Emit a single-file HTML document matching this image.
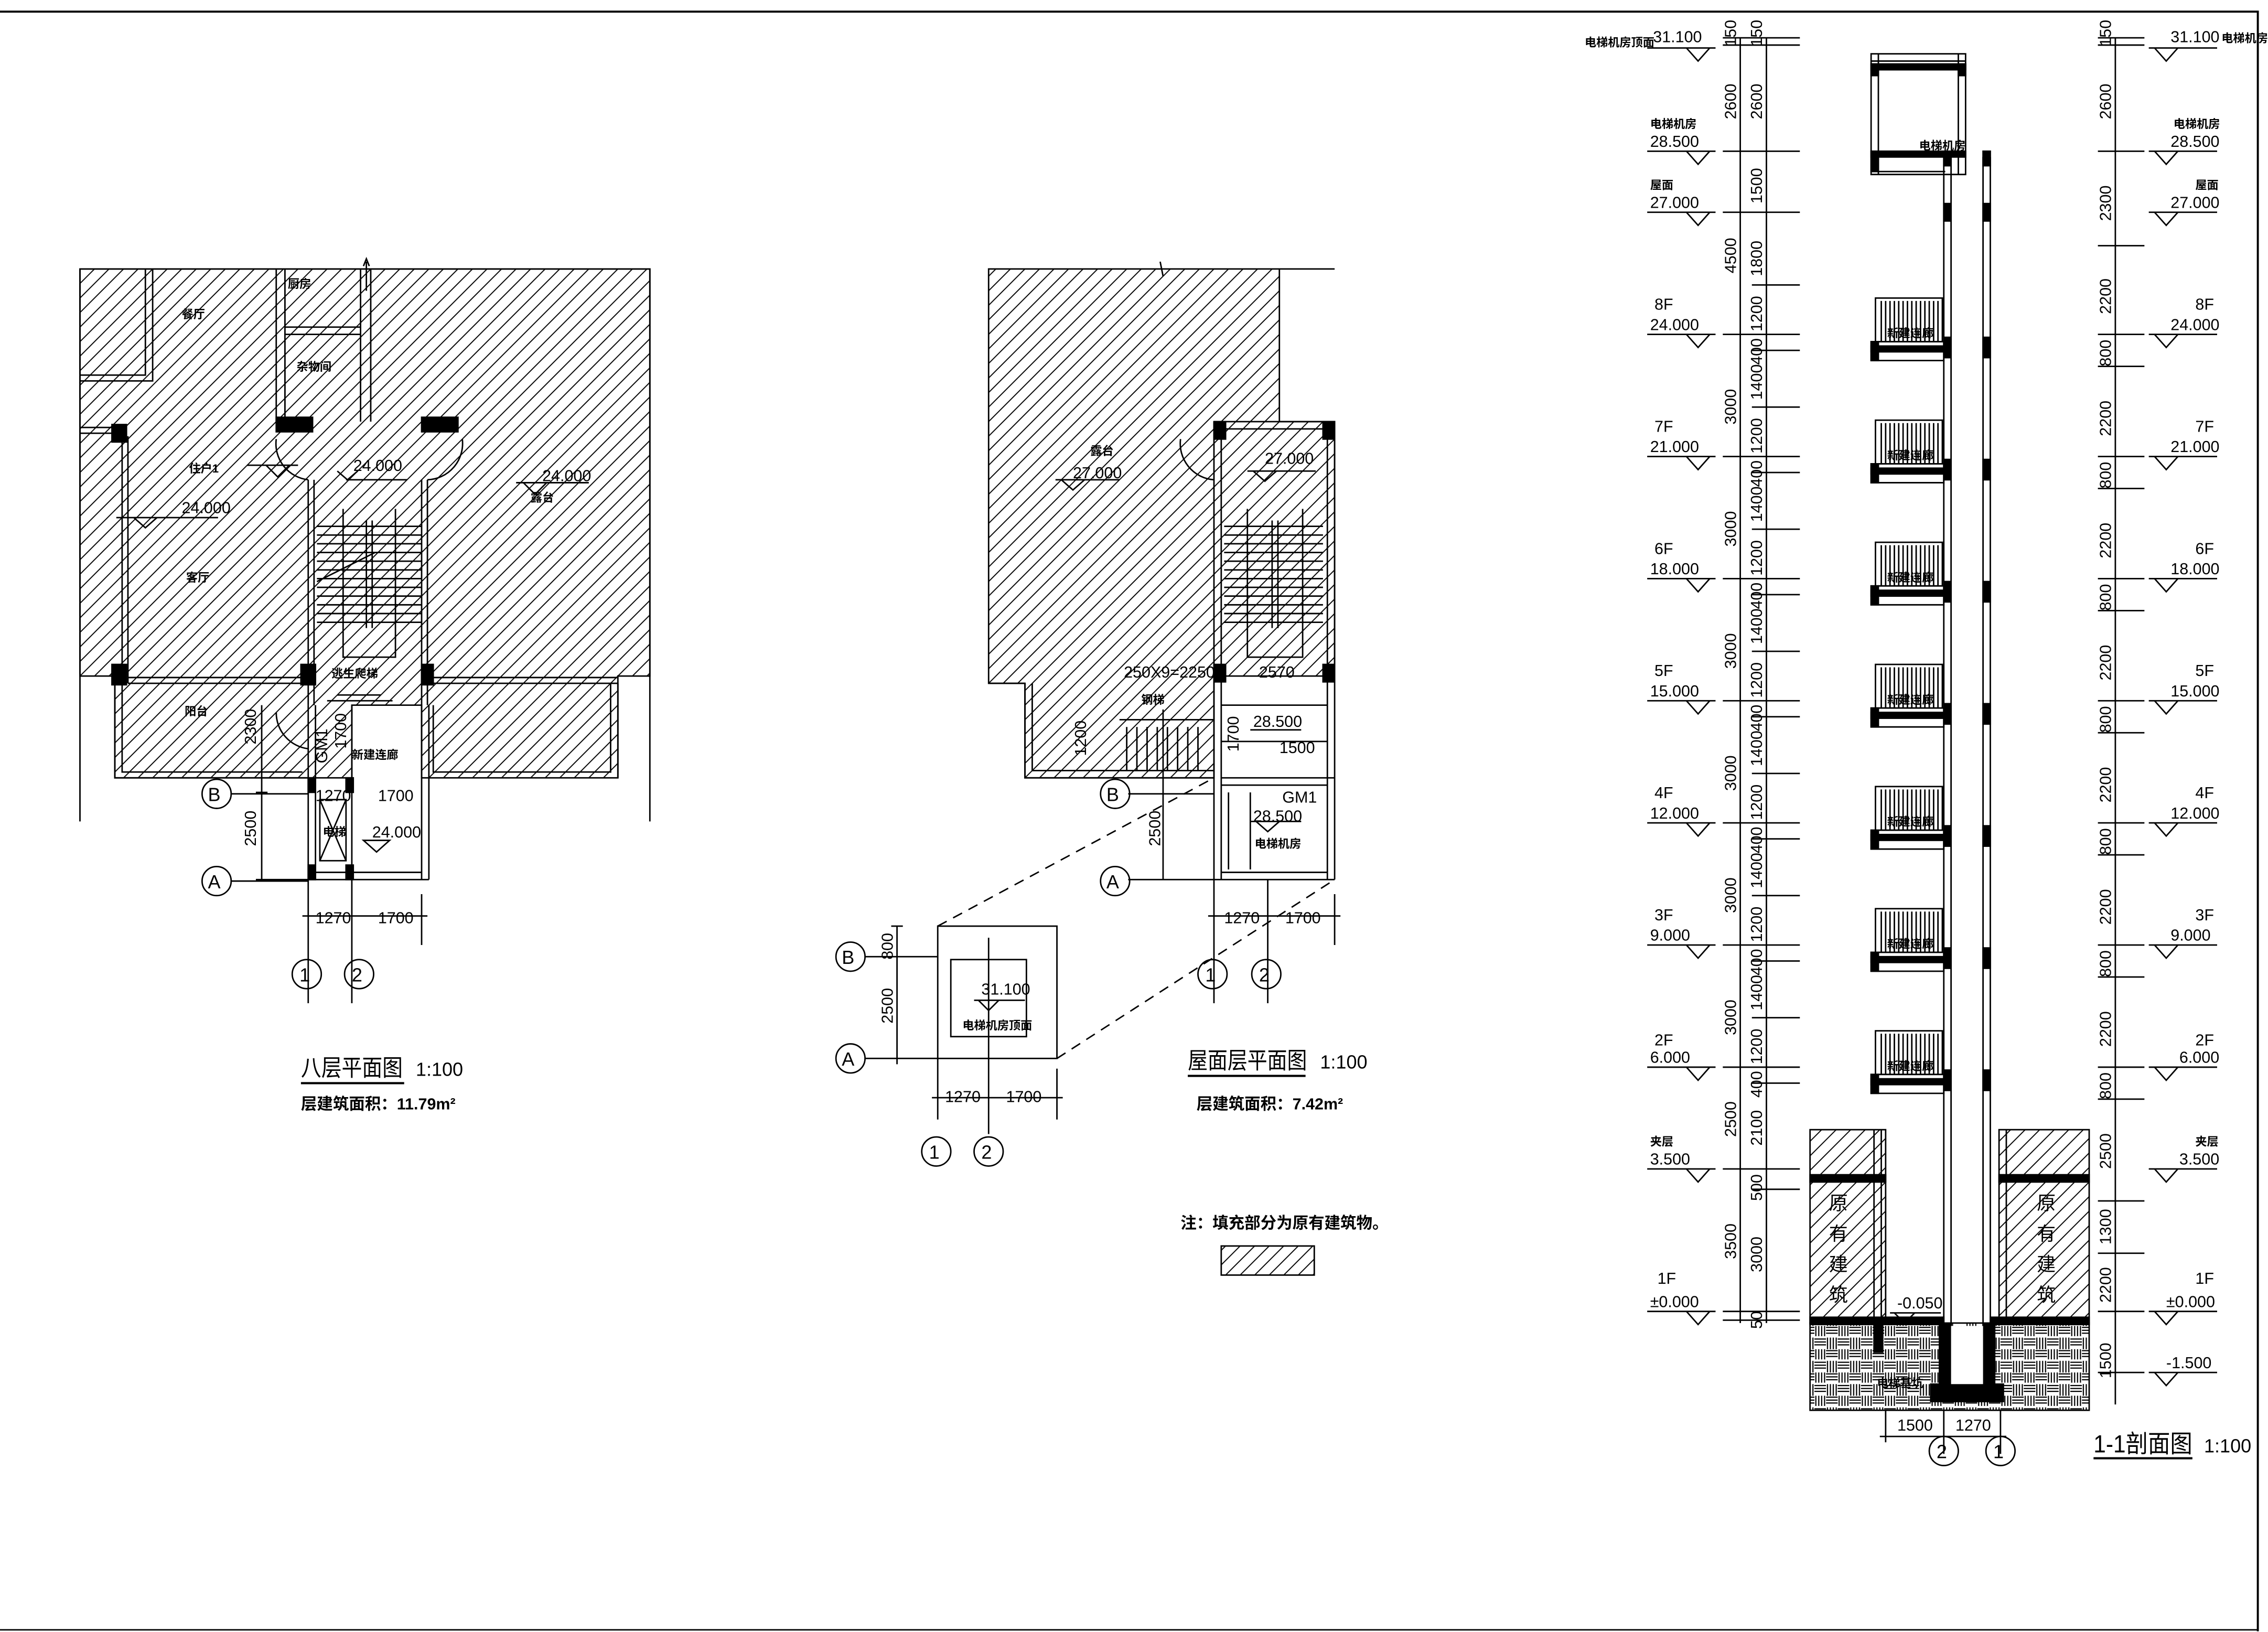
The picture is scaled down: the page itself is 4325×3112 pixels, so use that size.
<!DOCTYPE html>
<html><head><meta charset="utf-8"><style>
html,body{margin:0;padding:0;background:#fff}
svg{display:block}
text{font-family:"Liberation Sans","Noto Sans CJK SC",sans-serif;fill:#000}
.d{font-size:11px}
.c{font-size:8px;font-weight:bold}
.l{font-size:11px}
</style></head><body>
<svg width="4325" height="3112" viewBox="0 0 1560 1122.5" preserveAspectRatio="none" xmlns="http://www.w3.org/2000/svg">
<defs>
<pattern id="h" width="10" height="10" patternUnits="userSpaceOnUse"><path d="M-1,11 L11,-1 M-6,6 L6,-6 M4,16 L16,4" stroke="#000" stroke-width="0.7"/></pattern>
<pattern id="s" width="16" height="16" patternUnits="userSpaceOnUse"><g stroke="#000" stroke-width="0.8" fill="none"><path d="M1,0v7M3,0v7M5,0v7M7,0v7"/><path d="M8,1h8M8,3h8M8,5h8"/><path d="M0,9h8M0,11h8M0,13h8"/><path d="M9,8v8M11,8v8M13,8v8M15,8v8"/></g></pattern>
<g id="lm"><path d="M1133,0 H1180 M1160,0 L1168,9 L1176,0" fill="none" stroke="#000"/></g>
<g id="rm"><path d="M1478,0 H1525 M1482,0 L1490,9 L1498,0" fill="none" stroke="#000"/></g>
</defs>
<g fill="none" stroke="#000" stroke-width="1">
<!-- frame -->
<path d="M0,8 H1553 V1122" stroke-width="1.4"/>
<path d="M0,1121 H1553" stroke-width="1"/>

<!-- ===== LEFT PLAN ===== -->
<path d="M55,185 H447 V465 H425 V535 H290 V485 H242 V535 H79 V465 H55 Z" fill="url(#h)"/>
<path d="M55,185 H447 V465 M55,185 V465" />
<path d="M55,465 V565 M447,465 V565"/>
<path d="M55,262 H105 V185 M55,258 H100 V185"/>
<path d="M190,185 V290 M196,185 V290 M248,185 V290 M255,185 V290 M196,225 H248 M196,230 H248"/>
<path d="M252,180 V200 M250,183 L252,178 L254,183"/>
<path d="M55,294 H80 M55,298 H80"/>
<rect x="190" y="287" width="25" height="10" fill="#000"/>
<rect x="290" y="287" width="25" height="10" fill="#000"/>
<rect x="77" y="292" width="10" height="12" fill="#000"/>
<rect x="77" y="457" width="10" height="14" fill="#000"/>
<rect x="207" y="457" width="10" height="14" fill="#000"/>
<rect x="290" y="457" width="8" height="14" fill="#000"/>
<path d="M84,300 V470 M88,300 V470"/>
<path d="M212,330 V485 M216,330 V485 M290,330 V485 M294,330 V485"/>
<path d="M190,302 A25,25 0 0 0 212,330 M318,302 A25,25 0 0 1 294,330"/>
<path d="M218,362 H290 M218,368 H290 M218,374 H290 M218,380 H290 M218,386 H290 M218,392 H290 M218,398 H290 M218,404 H290 M218,410 H290 M218,416 H290 M218,422 H290 M218,428 H290"/>
<path d="M252,358 V432 M256,358 V432 M236,350 V452 H272 V350"/>
<path d="M218,400 L258,380"/>
<path d="M88,466 H212 M88,470 H212 M290,466 H425 M290,470 H425"/>
<path d="M79,470 V535 H212 M84,470 V531 H208 M425,470 V535 M420,470 V531 H298 V485"/>
<path d="M232,478 H262 M225,482 H270"/>
<path d="M190,490 A25,25 0 0 0 212,515"/>
<path d="M212,485 V605 M217,485 V605 M242,485 V605 M290,485 V605 M295,485 V605 M217,600 H290 M212,605 H295"/>
<rect x="212" y="535" width="5" height="10" fill="#000"/>
<rect x="238" y="535" width="5" height="10" fill="#000"/>
<rect x="212" y="595" width="5" height="10" fill="#000"/>
<rect x="238" y="595" width="5" height="10" fill="#000"/>
<path d="M220,550 L238,592 M238,550 L220,592 M220,550 H238 V592 H220 Z"/>
<path d="M180,485 V605 M176,605 H212 M159,606 H212 M159,546 H212 M176,545 H184"/>
<circle cx="149" cy="546" r="10"/><circle cx="149" cy="606" r="10"/>
<path d="M212,605 V690 M242,605 V690 M290,615 V650 M208,630 H294"/>
<circle cx="211" cy="670" r="10"/><circle cx="247" cy="670" r="10"/>
<path d="M250,578 H268 L259,586 Z"/>
<path d="M170,320 H205 M183,320 L191,328 L199,320 M80,356 H150 M92,356 L100,363 L108,356 M238,330 H280 M232,324 L239,330 L246,324 M355,332 H405 M360,332 L368,340 L376,332"/>
<path d="M207,745 H278" stroke-width="1.5"/>

<!-- ===== MIDDLE PLAN ===== -->
<path d="M680,185 H880 V290 H918 V465 H835 V535 H705 V470 H680 Z" fill="url(#h)"/>
<path d="M880,185 H918 M798,180 L800,190 M680,470 H705"/>
<path d="M835,290 V605 M840,295 V605 M913,290 V605 M918,290 V605 M835,290 H918 M840,295 H913"/>
<rect x="835" y="290" width="8" height="12" fill="#000"/>
<rect x="910" y="290" width="8" height="12" fill="#000"/>
<rect x="835" y="457" width="8" height="12" fill="#000"/>
<rect x="910" y="457" width="8" height="12" fill="#000"/>
<path d="M842,362 H910 M842,368 H910 M842,374 H910 M842,380 H910 M842,386 H910 M842,392 H910 M842,398 H910 M842,404 H910 M842,410 H910 M842,416 H910 M842,422 H910 M842,428 H910"/>
<path d="M875,358 V432 M879,358 V432 M858,350 V452 H896 V350"/>
<path d="M812,302 A25,25 0 0 0 835,330"/>
<path d="M705,470 V535 H835 M710,470 V530 H835 M770,495 H835 M775,500 V530 M782,500 V530 M789,500 V530 M796,500 V530 M803,500 V530 M810,500 V530 M817,500 V530 M824,500 V530"/>
<path d="M840,485 H913 M840,535 H918 M840,540 H913 M840,600 H913 M835,605 H918 M840,510 H913"/>
<path d="M845,545 V598 M860,545 V598"/>
<path d="M800,488 V605 M776,605 H835 M776,546 H835"/>
<circle cx="767" cy="546" r="10"/><circle cx="767" cy="606" r="10"/>
<path d="M835,605 V690 M872,605 V690 M918,615 V650 M831,630 H922"/>
<circle cx="834" cy="670" r="10"/><circle cx="871" cy="670" r="10"/>
<path d="M726,330 H770 M730,330 L738,337 L746,330 M858,324 H905 M862,324 L870,331 L878,324 M860,502 H895 M860,565 H895 M864,565 L872,572 L880,565"/>
<path d="M817,740 H898" stroke-width="1.5"/>
<rect x="645" y="637" width="82" height="91"/>
<rect x="654" y="660" width="52" height="53"/>
<path d="M680,645 V780 M645,728 V770 M727,735 V770 M641,755 H731 M595,658 H645 M595,728 H645 M617,637 V732 M613,637 H621"/>
<circle cx="585" cy="658" r="10"/><circle cx="585" cy="728" r="10"/>
<circle cx="644" cy="792" r="10"/><circle cx="680" cy="792" r="10"/>
<path d="M670,688 H705 M673,688 L680,695 L687,688"/>
<path d="M645,637 L835,535 M727,728 L918,605" stroke-dasharray="7,5"/>
<rect x="840" y="857" width="64" height="20" fill="url(#h)"/>

<!-- ===== SECTION ===== -->
<path d="M1287,37 H1352 V120 H1287 Z M1292,37 V120 M1347,37 V120 M1287,42 H1352"/>
<rect x="1287" y="44" width="65" height="4" fill="#000"/>
<rect x="1287" y="104" width="65" height="4" fill="#000"/>
<rect x="1287" y="44" width="5" height="8" fill="#000"/>
<rect x="1347" y="44" width="5" height="8" fill="#000"/>
<rect x="1287" y="104" width="5" height="14" fill="#000"/>
<path d="M1287,118 H1338"/>
<path d="M1337,108 V960 M1342,108 V960 M1364,108 V960 M1369,108 V960"/>
<rect x="1337" y="140" width="5" height="12" fill="#000"/><rect x="1364" y="140" width="5" height="12" fill="#000"/>
<rect x="1364" y="104" width="5" height="10" fill="#000"/><rect x="1337" y="104" width="5" height="10" fill="#000"/>
<g id="fl">
<rect x="1290" y="205" width="46" height="30"/>
<path d="M1294,207 V235 M1297,207 V235 M1300,207 V235 M1303,207 V235 M1306,207 V235 M1309,207 V235 M1312,207 V235 M1315,207 V235 M1318,207 V235 M1321,207 V235 M1324,207 V235 M1327,207 V235 M1330,207 V235 M1333,207 V235"/>
<path d="M1287,235 H1337 V248 H1287 Z"/>
<rect x="1287" y="238" width="50" height="4" fill="#000"/>
<rect x="1287" y="235" width="5" height="13" fill="#000"/>
<rect x="1337" y="232" width="5" height="14" fill="#000"/>
<rect x="1364" y="232" width="5" height="14" fill="#000"/>
</g>
<use href="#fl" y="84"/><use href="#fl" y="168"/><use href="#fl" y="252"/><use href="#fl" y="336"/><use href="#fl" y="420"/><use href="#fl" y="504"/>
<rect x="1245" y="777" width="52" height="133" fill="url(#h)"/>
<rect x="1375" y="777" width="62" height="133" fill="url(#h)"/>
<rect x="1245" y="808" width="52" height="5" fill="#000"/>
<rect x="1375" y="808" width="62" height="5" fill="#000"/>
<path d="M1289,777 V910 M1294,777 V910 M1380,777 V910"/>
<rect x="1245" y="910" width="192" height="60" fill="url(#s)"/>
<rect x="1245" y="906" width="92" height="5" fill="#000"/>
<rect x="1369" y="906" width="68" height="5" fill="#000"/>
<rect x="1334" y="910" width="8" height="50" fill="#000"/>
<rect x="1364" y="910" width="8" height="50" fill="#000"/>
<rect x="1328" y="952" width="50" height="12" fill="#000"/>
<rect x="1342" y="912" width="22" height="40" fill="#fff" stroke="none"/>
<rect x="1289" y="910" width="6" height="20" fill="#000"/>
<path d="M1300,903 H1335 M1303,903 L1310,910 L1317,903"/>
<path d="M1297,970 V992 M1337,970 V1000 M1376,970 V1000 M1293,988 H1380"/>
<circle cx="1337" cy="998" r="10"/><circle cx="1376" cy="998" r="10"/>
<path d="M1440,1003 H1508" stroke-width="1.5"/>
<path d="M1197,26 V910 M1215,26 V910"/>
<path d="M1185,26 H1238 M1185,31 H1238 M1185,104 H1238 M1185,146 H1238 M1205,196 H1238 M1185,230 H1238 M1205,241 H1238 M1205,280 H1238 M1185,314 H1238 M1205,325 H1238 M1205,364 H1238 M1185,398 H1238 M1205,409 H1238 M1205,448 H1238 M1185,482 H1238 M1205,493 H1238 M1205,532 H1238 M1185,566 H1238 M1205,577 H1238 M1205,616 H1238 M1185,650 H1238 M1205,661 H1238 M1205,700 H1238 M1185,734 H1238 M1205,745 H1238 M1185,804 H1238 M1205,818 H1238 M1185,902 H1238 M1185,908 H1238"/>
<path d="M1455,26 V966"/>
<path d="M1443,26 H1475 M1443,31 H1475 M1443,104 H1475 M1443,169 H1475 M1443,230 H1475 M1443,252 H1475 M1443,314 H1475 M1443,336 H1475 M1443,398 H1475 M1443,420 H1475 M1443,482 H1475 M1443,504 H1475 M1443,566 H1475 M1443,588 H1475 M1443,650 H1475 M1443,672 H1475 M1443,734 H1475 M1443,756 H1475 M1443,826 H1475 M1443,862 H1475 M1443,902 H1475 M1443,944 H1475"/>
</g>
<use href="#lm" y="33"/><use href="#lm" y="104"/><use href="#lm" y="146"/><use href="#lm" y="230"/><use href="#lm" y="314"/><use href="#lm" y="398"/><use href="#lm" y="482"/><use href="#lm" y="566"/><use href="#lm" y="650"/><use href="#lm" y="734"/><use href="#lm" y="804"/><use href="#lm" y="902"/>
<use href="#rm" y="33"/><use href="#rm" y="104"/><use href="#rm" y="146"/><use href="#rm" y="230"/><use href="#rm" y="314"/><use href="#rm" y="398"/><use href="#rm" y="482"/><use href="#rm" y="566"/><use href="#rm" y="650"/><use href="#rm" y="734"/><use href="#rm" y="804"/><use href="#rm" y="902"/><use href="#rm" y="944"/>

<g class="c">
<text x="125" y="219">餐厅</text><text x="198" y="198">厨房</text><text x="204" y="255">杂物间</text>
<text x="130" y="325">住户1</text><text x="128" y="400">客厅</text><text x="127" y="492">阳台</text>
<text x="365" y="345">露台</text><text x="228" y="466">逃生爬梯</text><text x="242" y="522">新建连廊</text>
<text x="222" y="575">电梯</text>
<text x="750" y="313">露台</text><text x="785" y="484">钢梯</text><text x="863" y="583">电梯机房</text>
<text x="662" y="708">电梯机房顶面</text>
<text x="1320" y="103">电梯机房</text>
<text x="1090" y="32">电梯机房顶面</text><text x="1528" y="29">电梯机房顶</text>
<text x="1135" y="88">电梯机房</text><text x="1135" y="130">屋面</text>
<text x="1495" y="88">电梯机房</text><text x="1510" y="130">屋面</text>
<text x="1135" y="788">夹层</text><text x="1510" y="788">夹层</text>
<text x="1291" y="954">电梯基坑</text>
<text x="1298" y="232">新建连廊</text><text x="1298" y="316">新建连廊</text><text x="1298" y="400">新建连廊</text><text x="1298" y="484">新建连廊</text><text x="1298" y="568">新建连廊</text><text x="1298" y="652">新建连廊</text><text x="1298" y="736">新建连廊</text>
</g>
<g class="d">
<text x="125" y="353">24.000</text><text x="243" y="324">24.000</text><text x="373" y="331">24.000</text><text x="256" y="576">24.000</text>
<text x="738" y="329">27.000</text><text x="870" y="319">27.000</text><text x="862" y="500">28.500</text><text x="862" y="565">28.500</text>
<text x="773" y="466">250X9=2250</text><text x="866" y="466">2570</text><text x="880" y="518">1500</text><text x="882" y="552">GM1</text>
<text x="675" y="684">31.100</text>
<text x="217" y="635">1270</text><text x="260" y="635">1700</text><text x="217" y="551">1270</text><text x="260" y="551">1700</text>
<text x="842" y="635">1270</text><text x="884" y="635">1700</text>
<text x="650" y="758">1270</text><text x="692" y="758">1700</text>
<text x="1305" y="984">1500</text><text x="1345" y="984">1270</text>
<text x="1137" y="29">31.100</text><text x="1135" y="101">28.500</text><text x="1135" y="143">27.000</text>
<text x="1138" y="213">8F</text><text x="1135" y="227">24.000</text>
<text x="1138" y="297">7F</text><text x="1135" y="311">21.000</text>
<text x="1138" y="381">6F</text><text x="1135" y="395">18.000</text>
<text x="1138" y="465">5F</text><text x="1135" y="479">15.000</text>
<text x="1138" y="549">4F</text><text x="1135" y="563">12.000</text>
<text x="1138" y="633">3F</text><text x="1135" y="647">9.000</text>
<text x="1138" y="719">2F</text><text x="1135" y="731">6.000</text>
<text x="1135" y="801">3.500</text>
<text x="1140" y="883">1F</text><text x="1135" y="899">±0.000</text>
<text x="1305" y="900">-0.050</text>
<text x="1493" y="29">31.100</text><text x="1493" y="101">28.500</text><text x="1493" y="143">27.000</text>
<text x="1510" y="213">8F</text><text x="1493" y="227">24.000</text>
<text x="1510" y="297">7F</text><text x="1493" y="311">21.000</text>
<text x="1510" y="381">6F</text><text x="1493" y="395">18.000</text>
<text x="1510" y="465">5F</text><text x="1493" y="479">15.000</text>
<text x="1510" y="549">4F</text><text x="1493" y="563">12.000</text>
<text x="1510" y="633">3F</text><text x="1493" y="647">9.000</text>
<text x="1510" y="719">2F</text><text x="1499" y="731">6.000</text>
<text x="1499" y="801">3.500</text>
<text x="1510" y="883">1F</text><text x="1490" y="899">±0.000</text>
<text x="1490" y="941">-1.500</text>
</g>
<g class="d">
<text transform="translate(176,512) rotate(-90)">2300</text>
<text transform="translate(176,582) rotate(-90)">2500</text>
<text transform="translate(225,525) rotate(-90)">GM1</text>
<text transform="translate(238,515) rotate(-90)">1700</text>
<text transform="translate(798,582) rotate(-90)">2500</text>
<text transform="translate(747,520) rotate(-90)">1200</text>
<text transform="translate(852,517) rotate(-90)">1700</text>
<text transform="translate(614,660) rotate(-90)">800</text>
<text transform="translate(614,704) rotate(-90)">2500</text>
</g>
<g class="d">
<text transform="translate(1194,32) rotate(-90)">150</text><text transform="translate(1212,32) rotate(-90)">150</text>
<text transform="translate(1194,82) rotate(-90)">2600</text><text transform="translate(1212,82) rotate(-90)">2600</text>
<text transform="translate(1212,140) rotate(-90)">1500</text>
<text transform="translate(1194,188) rotate(-90)">4500</text><text transform="translate(1212,190) rotate(-90)">1800</text>
<text transform="translate(1212,228) rotate(-90)">1200</text>
<text transform="translate(1212,251) rotate(-90)">400</text><text transform="translate(1212,275) rotate(-90)">1400</text><text transform="translate(1194,292) rotate(-90)">3000</text><text transform="translate(1212,312) rotate(-90)">1200</text>
<text transform="translate(1212,335) rotate(-90)">400</text><text transform="translate(1212,359) rotate(-90)">1400</text><text transform="translate(1194,376) rotate(-90)">3000</text><text transform="translate(1212,396) rotate(-90)">1200</text>
<text transform="translate(1212,419) rotate(-90)">400</text><text transform="translate(1212,443) rotate(-90)">1400</text><text transform="translate(1194,460) rotate(-90)">3000</text><text transform="translate(1212,480) rotate(-90)">1200</text>
<text transform="translate(1212,503) rotate(-90)">400</text><text transform="translate(1212,527) rotate(-90)">1400</text><text transform="translate(1194,544) rotate(-90)">3000</text><text transform="translate(1212,564) rotate(-90)">1200</text>
<text transform="translate(1212,587) rotate(-90)">400</text><text transform="translate(1212,611) rotate(-90)">1400</text><text transform="translate(1194,628) rotate(-90)">3000</text><text transform="translate(1212,648) rotate(-90)">1200</text>
<text transform="translate(1212,671) rotate(-90)">400</text><text transform="translate(1212,695) rotate(-90)">1400</text><text transform="translate(1194,712) rotate(-90)">3000</text><text transform="translate(1212,732) rotate(-90)">1200</text>
<text transform="translate(1212,755) rotate(-90)">400</text><text transform="translate(1212,788) rotate(-90)">2100</text><text transform="translate(1194,782) rotate(-90)">2500</text>
<text transform="translate(1212,826) rotate(-90)">500</text><text transform="translate(1194,866) rotate(-90)">3500</text><text transform="translate(1212,875) rotate(-90)">3000</text>
<text transform="translate(1212,914) rotate(-90)">50</text>
<text transform="translate(1452,32) rotate(-90)">150</text><text transform="translate(1452,82) rotate(-90)">2600</text>
<text transform="translate(1452,152) rotate(-90)">2300</text><text transform="translate(1452,216) rotate(-90)">2200</text>
<text transform="translate(1452,252) rotate(-90)">800</text><text transform="translate(1452,300) rotate(-90)">2200</text>
<text transform="translate(1452,336) rotate(-90)">800</text><text transform="translate(1452,384) rotate(-90)">2200</text>
<text transform="translate(1452,420) rotate(-90)">800</text><text transform="translate(1452,468) rotate(-90)">2200</text>
<text transform="translate(1452,504) rotate(-90)">800</text><text transform="translate(1452,552) rotate(-90)">2200</text>
<text transform="translate(1452,588) rotate(-90)">800</text><text transform="translate(1452,636) rotate(-90)">2200</text>
<text transform="translate(1452,672) rotate(-90)">800</text><text transform="translate(1452,720) rotate(-90)">2200</text>
<text transform="translate(1452,756) rotate(-90)">800</text><text transform="translate(1452,804) rotate(-90)">2500</text>
<text transform="translate(1452,856) rotate(-90)">1300</text><text transform="translate(1452,896) rotate(-90)">2200</text>
<text transform="translate(1452,948) rotate(-90)">1500</text>
</g>
<g style="font-size:13px">
<text x="143" y="551">B</text><text x="143" y="611">A</text>
<text x="206" y="675">1</text><text x="242" y="675">2</text>
<text x="761" y="551">B</text><text x="761" y="611">A</text>
<text x="829" y="675">1</text><text x="866" y="675">2</text>
<text x="579" y="663">B</text><text x="579" y="733">A</text>
<text x="639" y="797">1</text><text x="675" y="797">2</text>
<text x="1332" y="1003">2</text><text x="1371" y="1003">1</text>
</g>
<g style="font-size:13px">
<text x="1258" y="832">原</text><text x="1258" y="853">有</text><text x="1258" y="874">建</text><text x="1258" y="895">筑</text>
<text x="1401" y="832">原</text><text x="1401" y="853">有</text><text x="1401" y="874">建</text><text x="1401" y="895">筑</text>
</g>
<text x="207" y="740" style="font-size:16px" textLength="70" lengthAdjust="spacingAndGlyphs">八层平面图</text><text x="286" y="740" style="font-size:13px">1:100</text>
<text x="207" y="763" style="font-size:11px;font-weight:bold">层建筑面积：11.79m²</text>
<text x="817" y="735" style="font-size:16px" textLength="82" lengthAdjust="spacingAndGlyphs">屋面层平面图</text><text x="908" y="735" style="font-size:13px">1:100</text>
<text x="823" y="763" style="font-size:11px;font-weight:bold">层建筑面积：7.42m²</text>
<text x="812" y="845" style="font-size:11px;font-weight:bold">注：填充部分为原有建筑物。</text>
<text x="1440" y="999" style="font-size:17px" textLength="68" lengthAdjust="spacingAndGlyphs">1-1剖面图</text><text x="1516" y="999" style="font-size:13px">1:100</text>
</svg>
</body></html>
